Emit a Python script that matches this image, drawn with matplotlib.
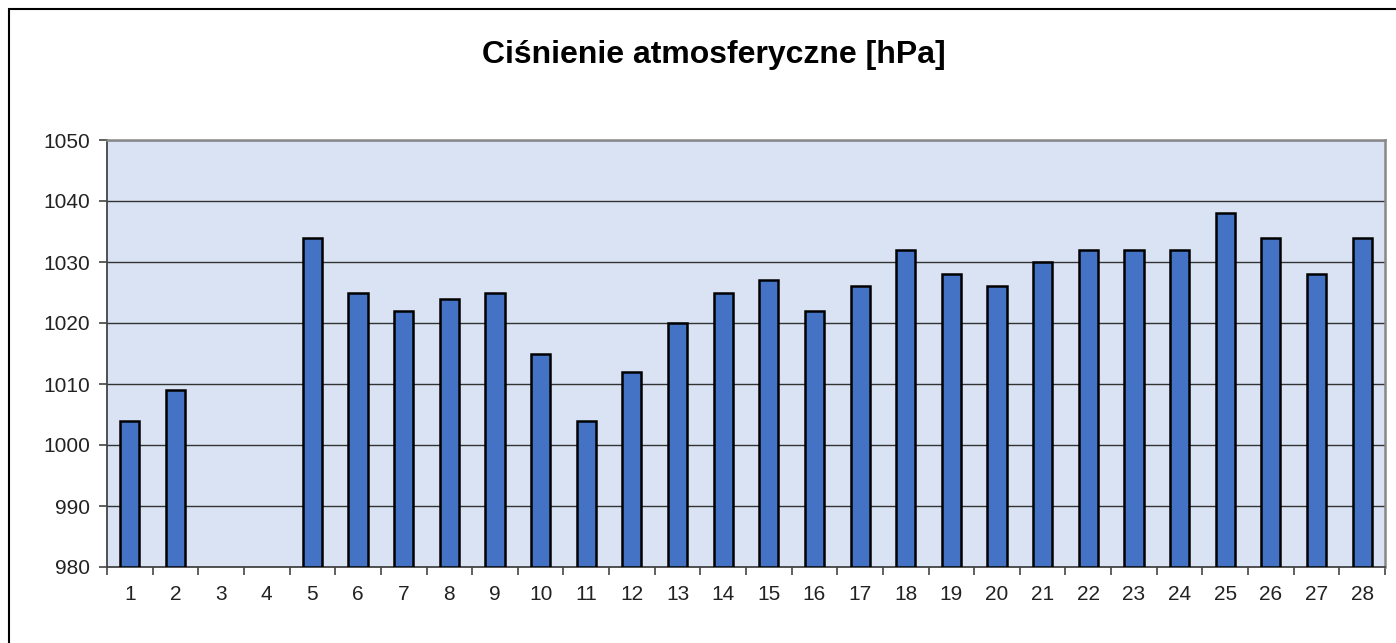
import matplotlib
matplotlib.use("Agg")
import matplotlib.pyplot as plt
from matplotlib.patches import Rectangle
import numpy as np

plt.rcParams['font.family'] = ['Liberation Sans', 'DejaVu Sans']

days = list(range(1, 29))
pressure = [1004, 1009, None, None, 1034, 1025, 1022, 1024, 1025, 1015,
            1004, 1012, 1020, 1025, 1027, 1022, 1026, 1032, 1028, 1026,
            1030, 1032, 1032, 1032, 1038, 1034, 1028, 1034]
title = "Ciśnienie atmosferyczne [hPa]"
yticks = [980, 990, 1000, 1010, 1020, 1030, 1040, 1050]

W, H = 1396, 643
fig = plt.figure(figsize=(W / 100, H / 100), dpi=100)
fig.patch.set_facecolor('white')

# outer chart frame
fig.patches.append(Rectangle((9 / W, -0.1), 1.2, 1 - 9 / H + 0.1,
                             transform=fig.transFigure, fill=False,
                             edgecolor='black', linewidth=1.5))

left, right, top, bottom = 107, 1385, 140, 567
ax = fig.add_axes([left / W, 1 - bottom / H, (right - left) / W, (bottom - top) / H])
ax.set_facecolor('#DAE3F3')

xs = [d for d, v in zip(days, pressure) if v is not None]
vals = [v for v in pressure if v is not None]
ax.bar(xs, [v - 980 for v in vals], bottom=980, width=0.42, color='#4472C4',
       edgecolor='black', linewidth=1.8, zorder=3)

ax.set_xlim(0.5, 28.5)
ax.set_ylim(980, 1050)
ax.set_yticks(yticks)
ax.set_yticklabels([str(t) for t in yticks], fontsize=15, color='#222222')
ax.yaxis.grid(True, color='#333333', linewidth=1.0, zorder=1)
ax.set_axisbelow(True)

ax.set_xticks(days)
ax.set_xticklabels([str(d) for d in days], fontsize=15, color='#222222')
ax.set_xticks(np.arange(0.5, 29, 1), minor=True)
ax.tick_params(axis='x', which='major', length=0, pad=13)
ax.tick_params(axis='x', which='minor', length=6, width=1.2, color='#444444')
ax.tick_params(axis='y', length=6, width=1.2, color='#444444', pad=6)

for s in ['top', 'right']:
    ax.spines[s].set_color('#888888')
    ax.spines[s].set_linewidth(1.8)
for s in ['left', 'bottom']:
    ax.spines[s].set_color('#444444')
    ax.spines[s].set_linewidth(1.3)

fig.text(714 / W, 1 - 55 / H, title, ha='center', va='center',
         fontsize=23, fontweight='bold')

fig.savefig('out.png', dpi=100)
